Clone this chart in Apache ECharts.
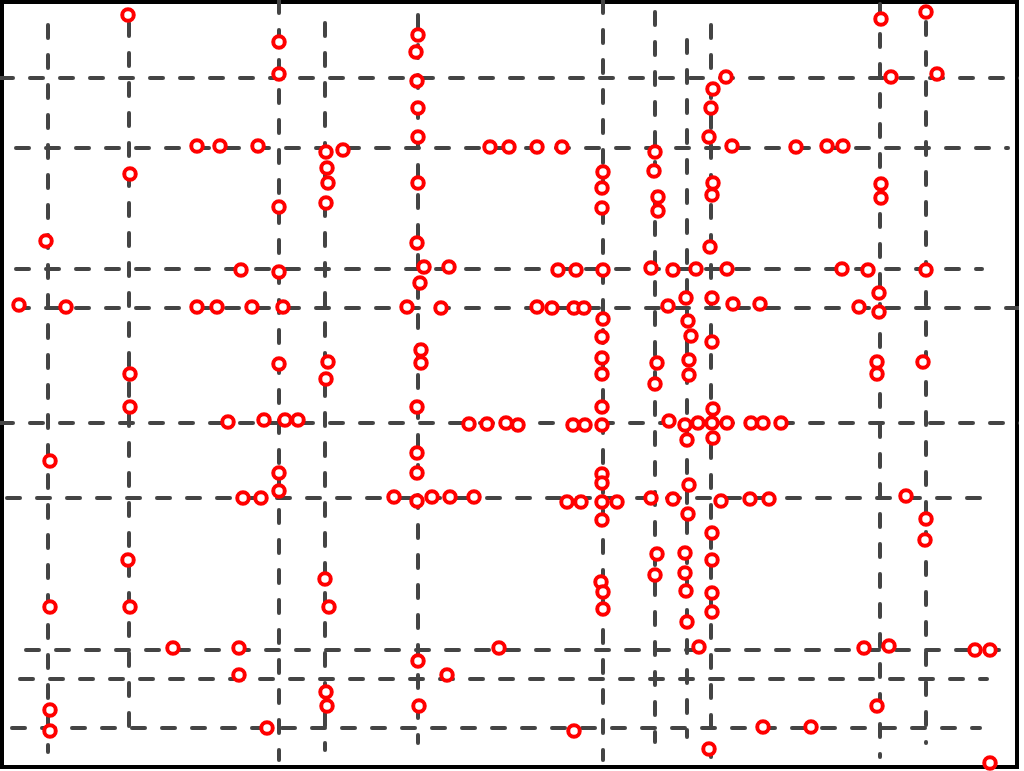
<!DOCTYPE html>
<html>
<head>
<meta charset="utf-8">
<script src="https://cdn.jsdelivr.net/npm/echarts@6/dist/echarts.min.js"></script>
<style>
  html, body { margin: 0; padding: 0; background: #fff; }
  #chart { width: 1024px; height: 771px; }
</style>
</head>
<body>
<div id="chart"></div>
<script>
// vertical streets: x position and y extent
const streetX = [48, 129, 279, 325, 418, 603, 655, 687, 711, 880, 926];
const streetXFrom = [25, 23, 0, 23, 15, 0, 12, 40, 25, 4, 22];
const streetXTo = [752, 740, 760, 750, 743, 760, 742, 737, 757, 757, 743];

// horizontal streets: y position and x extent
const streetY = [78, 148, 269, 308, 423, 498, 650, 679, 728];
const streetYFrom = [0, 16, 16, 16, 0, 7, 26, 20, 12];
const streetYTo = [1024, 1008, 982, 1024, 1024, 992, 1010, 987, 980];

// observed locations
const pointX = [
    128, 279, 279, 197, 220, 258, 326, 343, 130, 327, 328, 279, 326, 46,
    418, 416, 417, 418, 418, 490, 509, 537, 562, 418, 417, 603, 602, 602, 655, 654, 658, 658,
    881, 926, 726, 713, 711, 709, 732, 796, 827, 843, 891, 937, 713, 712, 881, 881, 710,
    241, 279, 19, 66, 197, 217, 252, 283, 279, 328, 326, 130, 130, 228, 264, 285, 298, 50, 279, 279, 243, 261,
    424, 449, 420, 407, 441, 537, 552, 574, 584, 558, 576, 603, 651, 673, 686, 668, 603, 602, 602, 602,
    421, 421, 657, 655, 688, 691, 689, 689, 417, 602, 469, 487, 506, 518, 573, 585, 602, 669, 685, 687,
    417, 417, 394, 417, 432, 450, 474, 567, 581, 602, 617, 602, 602, 651, 673, 689, 602,
    696, 727, 842, 868, 926, 712, 733, 760, 859, 879, 879, 712, 877, 877, 923, 713, 698, 712, 727, 751,
    763, 781, 713, 721, 750, 769, 906, 688, 926,
    128, 50, 130, 325, 329, 173, 239, 239, 50, 50, 326, 327, 267,
    657, 655, 685, 685, 686, 687, 601, 603, 603, 499, 418, 447, 419, 574,
    712, 712, 712, 712, 699, 864, 889, 975, 990, 925, 877, 763, 811, 709, 990
];
const pointY = [
    15, 42, 74, 146, 146, 146, 152, 150, 174, 168, 183, 207, 203, 241,
    35, 52, 81, 108, 137, 147, 147, 147, 147, 183, 243, 172, 188, 208, 152, 171, 197, 211,
    19, 12, 77, 89, 108, 137, 146, 147, 146, 146, 77, 74, 183, 195, 184, 198, 247,
    270, 272, 305, 307, 307, 307, 307, 307, 364, 362, 379, 374, 407, 422, 420, 420, 420, 461, 473, 491, 498, 498,
    267, 267, 283, 307, 308, 307, 308, 308, 308, 270, 270, 270, 268, 270, 298, 306, 319, 337, 358, 374,
    350, 363, 363, 384, 321, 336, 360, 375, 407, 407, 424, 424, 423, 425, 425, 425, 425, 421, 425, 440,
    453, 473, 497, 501, 497, 497, 497, 502, 502, 502, 502, 474, 483, 498, 499, 485, 520,
    269, 269, 269, 270, 270, 298, 304, 304, 307, 293, 312, 342, 362, 374, 362, 409, 423, 423, 423, 423,
    423, 423, 438, 501, 499, 499, 496, 514, 519,
    560, 607, 607, 579, 607, 648, 648, 675, 710, 731, 692, 706, 728,
    554, 575, 553, 573, 591, 622, 582, 592, 609, 648, 661, 675, 706, 731,
    533, 560, 593, 612, 647, 648, 646, 650, 650, 540, 706, 727, 727, 749, 763
];

const chartDom = document.getElementById('chart');
const myChart = echarts.init(chartDom, null, { renderer: 'canvas' });

const streetStyle = {
    color: '#444444',
    width: 4,
    type: [13, 17],
    cap: 'round',
};

const series = [];
for (let i = 0; i < streetX.length; i++) {
    series.push({
        type: 'line',
        symbol: 'none',
        silent: true,
        lineStyle: streetStyle,
        data: [[streetX[i], streetXFrom[i]], [streetX[i], streetXTo[i]]],
        z: 1,
    });
}
for (let i = 0; i < streetY.length; i++) {
    series.push({
        type: 'line',
        symbol: 'none',
        silent: true,
        lineStyle: streetStyle,
        data: [[streetYFrom[i], streetY[i]], [streetYTo[i], streetY[i]]],
        z: 1,
    });
}
series.push({
    type: 'scatter',
    symbol: 'circle',
    symbolSize: 11.5,
    itemStyle: {
        color: '#ffffff',
        borderColor: '#ff0000',
        borderWidth: 4,
        opacity: 1,
    },
    data: pointX.map((x, i) => [x, pointY[i]]),
    z: 3,
});

const option = {
    backgroundColor: '#fff',
    animation: false,
    grid: {
        left: 2,
        top: 2,
        right: 7,
        bottom: 4,
        show: true,
        borderColor: '#000',
        borderWidth: 4,
        backgroundColor: '#fff',
    },
    xAxis: {
        type: 'value',
        min: 2,
        max: 1017,
        show: false,
    },
    yAxis: {
        type: 'value',
        min: 2,
        max: 767,
        inverse: true,
        show: false,
    },
    series,
};
myChart.setOption(option);
</script>
</body>
</html>
